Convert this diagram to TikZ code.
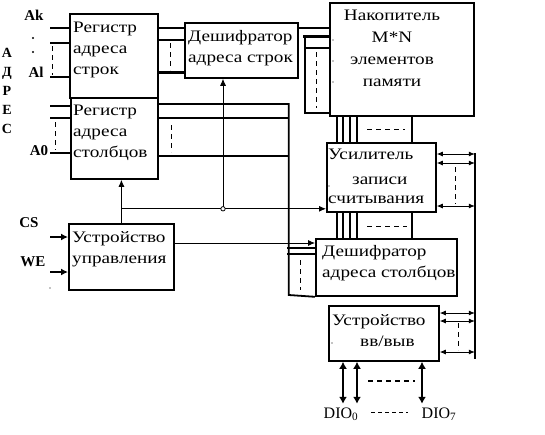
\documentclass[tikz,border=0pt]{standalone}
\usepackage{fontspec}
\setmainfont{Liberation Serif}
\newfontfamily\boxfont[FakeStretch=1.2]{Liberation Serif}
\usetikzlibrary{arrows.meta,calc}
\tikzset{
  blk/.style={draw, line width=1.8pt, anchor=north west, inner sep=0pt},
  blktext/.style={anchor=base west, align=left, inner sep=0pt, font=\boxfont\fontsize{16}{21}\selectfont},
  pin/.style={font=\bfseries\fontsize{15}{17}\selectfont, inner sep=0pt},
  bus/.style={line width=1.8pt},
  wire/.style={line width=0.8pt},
  sig/.style={wire, -{Latex[length=7pt,width=6pt]}},
  biarrow/.style={wire, {Latex[length=6pt,width=5pt]}-{Latex[length=6pt,width=5pt]}},
  dbus/.style={line width=2.4pt, {Latex[length=7pt,width=8pt]}-{Latex[length=7pt,width=8pt]}},
  gap/.style={line width=0.8pt, dash pattern=on 5pt off 4pt},
}
\begin{document}
\begin{tikzpicture}[x=1pt,y=-1pt]
\useasboundingbox (0,0) rectangle (545,434);
% blocks
\node[blk, line width=2.4pt, minimum width=88pt, minimum height=84pt] (rgS) at (69,13) {};
\node[blk, minimum width=87pt, minimum height=81pt] (rgC) at (70,97) {};
\node[blk, minimum width=113pt, minimum height=55pt] (dcS) at (184,22) {};
\node[blk, minimum width=144pt, minimum height=113pt] (nak) at (329,2) {};
\node[blk, minimum width=109pt, minimum height=69pt] (usl) at (326,142) {};
\node[blk, minimum width=141pt, minimum height=57pt] (dcC) at (315,238) {};
\node[blk, minimum width=105pt, minimum height=66pt] (uu) at (68,223) {};
\node[blk, minimum width=110pt, minimum height=55pt] (io) at (328,305) {};
% block texts (base = last line)
\node[blktext] (rgSt) at (73,74) {Регистр\\адреса\\строк};
\node[blktext] (rgCt) at (73,157) {Регистр\\адреса\\столбцов};
\node[blktext] (dcSt) at (188,62) {Дешифратор\\адреса строк};
\node[blktext, anchor=base, align=center, font=\boxfont\fontsize{16}{22}\selectfont] (nakt) at (392,86) {Накопитель\\M*N\\элементов\\памяти};
\node[blktext] (uslt) at (328,203) {Усилитель\\[4pt]\hspace{24pt}записи\\[-2pt]считывания};
\node[blktext] (dcCt) at (322,277) {Дешифратор\\адреса столбцов};
\node[blktext] (uut) at (72,263) {Устройство\\управления};
\node[blktext] (iot) at (332,346) {Устройство\\\hspace{28pt}вв/выв};
% pins
\node[pin] (ak) at (34,15) {Ak};
\node[pin] (al) at (36,72) {Al};
\node[pin] (a0) at (39,151) {A0};
\node[pin] (cs) at (29,223) {CS};
\node[pin] (we) at (33,262) {WE};
\node[pin, anchor=base, align=center, font=\bfseries\fontsize{14}{19}\selectfont] (adr) at (7,133) {А\\Д\\Р\\Е\\С};
\node[anchor=base, inner sep=0pt, font=\fontsize{16}{18}\selectfont] (d0) at (341,418) {DIO\textsubscript{0}};
\node[anchor=base, inner sep=0pt, font=\fontsize{16}{18}\selectfont] (d7) at (439,418) {DIO\textsubscript{7}};
\draw[wire, dash pattern=on 4pt off 3pt] ($(d0.base east)+(13,-6)$) -- ($(d7.base west)+(-14,-6)$);
% dots
\fill (33,38) circle (1.2pt);
\fill (33,52) circle (1.2pt);
\fill (333,40) circle (0.7pt);
\fill (333,61) circle (0.7pt);
\fill (333,82) circle (0.7pt);
\fill (329,186) circle (0.7pt);
\fill (332,343) circle (0.7pt);
\fill (50,288) circle (0.7pt);
% row register inputs
\draw[bus] ($(rgS.north west)+(0,15)$) -- ++(-19,0);
\draw[bus] ($(rgS.north west)+(0,30)$) -- ++(-19,0);
\draw[bus] ($(rgS.north west)+(0,64)$) -- ++(-19,0);
\draw[gap] ($(rgS.north west)+(-17,33)$) -- ++(0,29);
% column register inputs
\draw[bus] ($(rgC.north west)+(0,9)$) -- ++(-20,0);
\draw[bus] ($(rgC.north west)+(0,21)$) -- ++(-20,0);
\draw[bus] ($(rgC.north west)+(0,56)$) -- ++(-20,0);
\draw[gap] ($(rgC.north west)+(-15,25)$) -- ++(0,28);
% row register -> row decoder
\draw[bus] ($(rgS.north east)+(0,15)$) -- ++(27,0);
\draw[bus] ($(rgS.north east)+(0,27)$) -- ++(27,0);
\draw[line width=3pt] ($(rgS.north east)+(0,59)$) -- ++(27,0);
\draw[gap] ($(rgS.north east)+(11,30)$) -- ++(0,27);
% row decoder -> storage
\draw[bus] ($(dcS.north east)+(0,6)$) -- ++(32,0);
\draw[line width=3pt] ($(nak.north west)+(-26,34)$) -- ++(26,0);
\draw[bus] ($(nak.north west)+(-24,46)$) -- ++(24,0);
\draw[bus] ($(nak.north west)+(-24,34)$) -- ++(0,77) -- ++(24,0);
\draw[gap] ($(nak.north west)+(-13,50)$) -- ++(0,56);
% storage -> amplifier
\draw[bus] ($(nak.south west)+(8,0)$) -- ++(0,27);
\draw[bus] ($(nak.south west)+(14,0)$) -- ++(0,27);
\draw[bus] ($(nak.south west)+(21,0)$) -- ++(0,27);
\draw[bus] ($(nak.south west)+(28,0)$) -- ++(0,27);
\draw[bus] ($(nak.south west)+(83,0)$) -- ++(0,27);
\draw[gap] ($(nak.south west)+(38,13)$) -- ++(38,0);
% amplifier -> column decoder
\draw[bus] ($(usl.south west)+(11,0)$) -- ++(0,27);
\draw[bus] ($(usl.south west)+(17,0)$) -- ++(0,27);
\draw[bus] ($(usl.south west)+(24,0)$) -- ++(0,27);
\draw[bus] ($(usl.south west)+(31,0)$) -- ++(0,27);
\draw[bus] ($(usl.south west)+(86,0)$) -- ++(0,27);
\draw[gap] ($(usl.south west)+(41,14)$) -- ++(40,0);
% column register -> column decoder
\draw[bus] ($(rgC.north east)+(0,7)$) -- ++(130,0) -- ++(0,191) -- (dcC.south west);
\draw[bus] ($(rgC.north east)+(0,21)$) -- ++(130,0);
\draw[bus] ($(rgC.north east)+(0,59)$) -- ++(130,0);
\draw[gap] ($(rgC.north east)+(13,28)$) -- ++(0,27);
\draw[bus] ($(dcC.north west)+(-28,10)$) -- ++(28,0);
\draw[bus] ($(dcC.north west)+(-28,16)$) -- ++(28,0);
\draw[gap] ($(dcC.north west)+(-15,22)$) -- ++(0,30);
% control
\coordinate (uslIn) at ($(usl.south west)+(0,-4)$);
\coordinate (tap) at ($(dcS.south west)+(39,0)$);
\coordinate (dcCin) at ($(dcC.north west)+(0,5)$);
\draw[sig] (uu.north) -- (uu.north |- rgC.south);
\draw[sig] (uu.north |- uslIn) -- (uslIn);
\draw[sig] (tap |- uslIn) -- (tap);
\draw[wire, fill=white] (tap |- uslIn) circle (2.2pt);
\draw[sig] (uu.east |- dcCin) -- (dcCin);
\draw[bus, -{Latex[length=7pt,width=7pt]}] ($(uu.north west)+(-18,14)$) -- ++(18,0);
\draw[bus, -{Latex[length=7pt,width=7pt]}] ($(uu.north west)+(-18,49)$) -- ++(18,0);
% data bus
\coordinate (busTop) at ($(usl.north east)+(38,11)$);
\coordinate (busBot) at ($(io.south east)+(35,-3)$);
\draw[bus] (busTop) -- (busBot);
\draw[biarrow] ($(usl.north east)+(0,12)$) -- ++(38,0);
\draw[biarrow] ($(usl.north east)+(0,21)$) -- ++(38,0);
\draw[biarrow] ($(usl.north east)+(0,64)$) -- ++(38,0);
\draw[gap] ($(usl.north east)+(19,25)$) -- ++(0,37);
\draw[biarrow] ($(io.north east)+(0,8)$) -- ++(35,0);
\draw[biarrow] ($(io.north east)+(0,16)$) -- ++(35,0);
\draw[biarrow] ($(io.north east)+(0,47)$) -- ++(35,0);
\draw[gap] ($(io.north east)+(19,18)$) -- ++(0,27);
% input/output lines
\draw[dbus] ($(io.south west)+(15,0)$) -- ++(0,42);
\draw[dbus] ($(io.south west)+(29,0)$) -- ++(0,42);
\draw[dbus] ($(io.south west)+(94,0)$) -- ++(0,42);
\draw[line width=2pt, dash pattern=on 5pt off 4pt] ($(io.south west)+(40,19)$) -- ++(47,0);
\end{tikzpicture}
\end{document}
